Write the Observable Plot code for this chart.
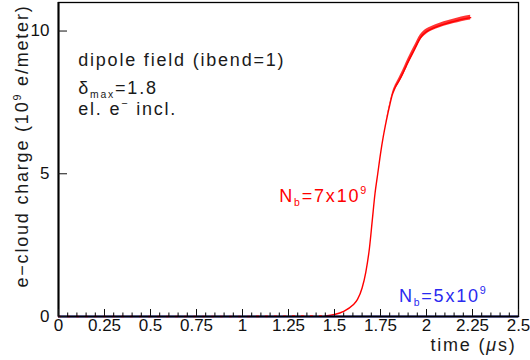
<!DOCTYPE html>
<html><head><meta charset="utf-8">
<script src="https://cdn.jsdelivr.net/npm/d3@7"></script>
<script src="https://cdn.jsdelivr.net/npm/@observablehq/plot@0.6"></script>
<style>
html,body{margin:0;padding:0;background:#fff;}
#chart svg{display:block;}
</style></head><body><div id="chart"></div>
<script>
// N_b = 7e9 series (red): time (µs) and e-cloud charge (1e9 e/m)
const redT = [0, 0.5, 1.0, 1.45, 1.5, 1.55, 1.6, 1.625, 1.65, 1.67, 1.69, 1.705, 1.72, 1.735, 1.75, 1.765, 1.783, 1.8, 1.815, 1.83, 1.85, 1.87, 1.89, 1.91, 1.93, 1.95, 1.965, 1.98, 2.0, 2.025, 2.05, 2.08, 2.11, 2.15, 2.19, 2.24];
const redQ = [0, 0, 0, 0.02, 0.07, 0.18, 0.4, 0.6, 1.0, 1.55, 2.4, 3.35, 4.3, 5.0, 5.7, 6.3, 6.9, 7.4, 7.78, 8.02, 8.25, 8.5, 8.78, 9.05, 9.3, 9.56, 9.74, 9.87, 9.98, 10.07, 10.14, 10.21, 10.27, 10.34, 10.41, 10.47];
// visible spread (noise) of the red curve, half-width in 1e9 e/m
const redSpread = [0, 0, 0, 0, 0, 0, 0, 0, 0, 0, 0, 0, 0, 0, 0, 0, 0.02, 0.04, 0.06, 0.08, 0.1, 0.11, 0.12, 0.12, 0.12, 0.12, 0.11, 0.1, 0.09, 0.08, 0.08, 0.08, 0.08, 0.08, 0.08, 0.08];
// N_b = 5e9 series (blue): stays at zero
const blueT = [0, 0.5, 1.0, 1.5, 2.0, 2.5];
const blueQ = [0, 0, 0, 0, 0, 0];

const xMajor = [0, 0.25, 0.5, 0.75, 1, 1.25, 1.5, 1.75, 2, 2.25, 2.5];
const xMajorLabels = ["0", "0.25", "0.5", "0.75", "1", "1.25", "1.5", "1.75", "2", "2.25", "2.5"];
const xMinor = d3.range(0, 2.5001, 0.05);
const yTicks = [0, 5, 10];
const yTickLabels = ["0", "5", "10"];

const noteText = ["dipole field (ibend=1)", "δ_{max}=1.8", "el. e^{−} incl."];
const noteX = [0.107, 0.107, 0.107];
const noteY = [8.97, 8.01, 7.26];
const seriesLabelText = ["N_{b}=7x10^{9}", "N_{b}=5x10^{9}"];
const seriesLabelX = [1.2, 1.85];
const seriesLabelY = [4.22, 0.72];
const seriesLabelColor = ["#ff0000", "#2a2af0"];
const yTitle = "e−cloud charge (10^{9} e/meter)";
const xTitle = "time (~{μ}s)";

const red = redT.map((t, i) => ({t, q: redQ[i], w: redSpread[i]}));
const redFlat = red.filter(d => d.t <= 1.45);
const redRise = red.filter(d => d.t >= 1.45);
const redBand = red.filter(d => d.t >= 1.765);
const blue = blueT.map((t, i) => ({t, q: blueQ[i]}));
const notes = noteText.map((text, i) => ({text, x: noteX[i], y: noteY[i], color: "#1a1a1a"}));
const slabels = seriesLabelText.map((text, i) => ({text, x: seriesLabelX[i], y: seriesLabelY[i], color: seriesLabelColor[i]}));

const FS = 18;
const chart = Plot.plot({
  width: 530, height: 360,
  marginLeft: 58, marginRight: 12, marginTop: 2, marginBottom: 44,
  style: {fontFamily: "'Liberation Sans', Arial, sans-serif", fontSize: "17px", color: "#111", background: "#fff"},
  x: {domain: [0, 2.5]},
  y: {domain: [0, 11]},
  marks: [
    Plot.areaY(redBand, {x: "t", y1: d => d.q - d.w, y2: d => d.q + d.w, fill: "#ff0000", fillOpacity: 0.8, curve: "monotone-x"}),
    Plot.line(redRise, {x: "t", y: "q", stroke: "#ff0000", strokeWidth: 1.4, curve: "monotone-x"}),
    Plot.ruleY([0], {stroke: "#000", strokeWidth: 2}),
    Plot.line(blue, {x: "t", y: "q", stroke: "#2020e0", strokeWidth: 1.6}),
    Plot.line(redFlat, {x: "t", y: "q", stroke: "#ff0000", strokeWidth: 1.6, strokeDasharray: "2,7"}),
    Plot.ruleX([0], {stroke: "#000", strokeWidth: 2}),
    Plot.frame({stroke: "#000", strokeWidth: 1.3}),
    Plot.axisX({ticks: xMinor, tickSize: -3.5, tickFormat: () => "", label: null, stroke: "#000"}),
    Plot.axisX({ticks: xMajor, tickSize: -7, tickPadding: 9.5, tickFormat: d => xMajorLabels[xMajor.indexOf(d)], label: null, fontSize: 17, fill: "#111"}),
    Plot.axisY({ticks: yTicks, tickSize: -9, tickPadding: 18, tickFormat: d => yTickLabels[yTicks.indexOf(d)], label: null, fontSize: 17, fill: "#111"}),
    Plot.text(notes, {x: "x", y: "y", text: "text", fill: "color", textAnchor: "start", lineAnchor: "middle", fontSize: FS}),
    Plot.text(slabels, {x: "x", y: "y", text: "text", fill: "color", textAnchor: "start", lineAnchor: "middle", fontSize: FS}),
    Plot.text([yTitle], {text: d => d, frameAnchor: "top-left", rotate: -90, textAnchor: "end", lineAnchor: "middle", dx: -36, dy: 2, fontSize: FS, fill: "#1a1a1a"}),
    Plot.text([xTitle], {text: d => d, frameAnchor: "bottom-right", textAnchor: "end", lineAnchor: "middle", dx: -2, dy: 28.5, fontSize: FS, fill: "#1a1a1a"})
  ]
});

// rich text: _{sub}, ^{sup}, ~{italic}
const NS = "http://www.w3.org/2000/svg";
function rich(el, fs) {
  const s = el.textContent;
  if (!/[_^~]\{/.test(s)) return;
  const re = /([_^~])\{([^}]*)\}|([^_^~]+)/g;
  el.textContent = "";
  let shift = 0, m;
  while ((m = re.exec(s))) {
    const ts = document.createElementNS(NS, "tspan");
    let target = 0, size = null;
    if (m[1] === "_") { target = 0.26 * fs; size = 0.58 * fs; ts.textContent = m[2]; }
    else if (m[1] === "^") { target = -0.42 * fs; size = 0.6 * fs; ts.textContent = m[2]; }
    else if (m[1] === "~") { ts.textContent = m[2]; ts.setAttribute("font-style", "italic"); }
    else ts.textContent = m[3];
    if (target - shift !== 0) ts.setAttribute("dy", (target - shift).toFixed(2));
    shift = target;
    if (size) ts.setAttribute("font-size", size.toFixed(1));
    el.appendChild(ts);
  }
}
chart.querySelectorAll('g[aria-label="text"] text').forEach(t => {
  t.setAttribute("letter-spacing", "1.8");
  rich(t, FS);
});
document.getElementById("chart").appendChild(chart);
</script>
</body></html>
